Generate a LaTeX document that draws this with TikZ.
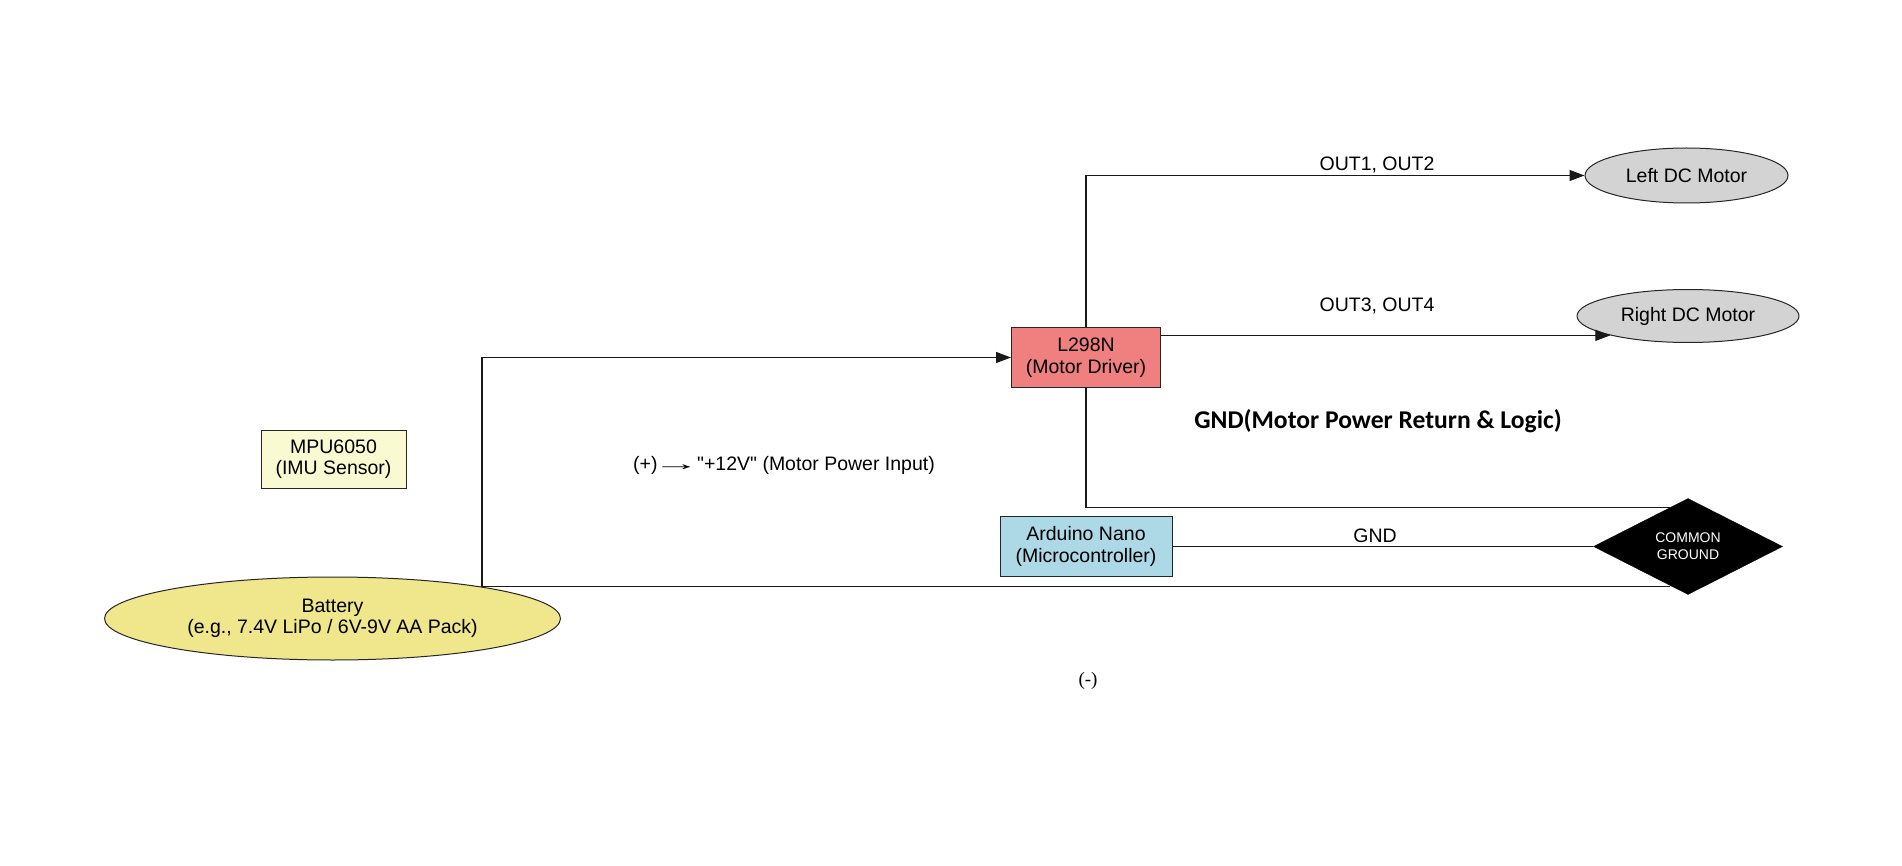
\documentclass[tikz,border=0pt]{standalone}
\usepackage{graphicx}
\usepackage{fontspec}
\setmainfont{Liberation Sans}[Ligatures=TeXOff]
\newfontfamily\serifx{Liberation Serif}
\newfontfamily\calib{Carlito}
\usetikzlibrary{shapes.geometric,arrows.meta}
\definecolor{lcoral}{HTML}{F08080}
\definecolor{lblue}{HTML}{ADD8E6}
\definecolor{lyellow}{HTML}{FAFAD2}
\definecolor{khakic}{HTML}{F0E68C}
\definecolor{lgrey}{HTML}{D3D3D3}
\begin{document}
\begin{tikzpicture}[x=1pt,y=-1pt,
  txt/.style={font=\fontsize{19.5}{21.5}\selectfont, align=center, inner sep=0pt},
  boxn/.style={txt, draw=black!85, line width=1pt, rectangle},
  elln/.style={txt, draw=black!85, line width=1pt, ellipse},
  wire/.style={line width=1.3pt, black!90},
  arr/.style={wire, -{Triangle[length=15pt,width=11pt]}}]
\useasboundingbox (0,0) rectangle (1902,866);

% nodes
\node[boxn, fill=lcoral, minimum width=149pt, minimum height=59pt] (l298) at (1086,357.5) {L298N\\(Motor Driver)};
\node[boxn, fill=lblue, minimum width=172pt, minimum height=60pt] (ard) at (1086,546.5) {Arduino Nano\\(Microcontroller)};
\node[boxn, fill=lyellow, minimum width=145pt, minimum height=58pt] (mpu) at (333.5,459) {MPU6050\\(IMU Sensor)};
\node[elln, fill=khakic, minimum width=456pt, minimum height=83pt] (bat) at (332.5,618.5) {Battery\\(e.g., 7.4V LiPo / 6V-9V AA Pack)};
\node[elln, fill=lgrey, minimum width=203pt, minimum height=55pt] (lmot) at (1686.5,175.5) {Left DC Motor};
\node[elln, fill=lgrey, minimum width=222pt, minimum height=53pt] (rmot) at (1688,316) {Right DC Motor};
\node[diamond, draw=black, fill=black, minimum width=189pt, minimum height=96pt, inner sep=0pt,
      text=white, align=center, font=\fontsize{14}{17}\selectfont] (gnd) at (1688,546.5) {COMMON\\GROUND};

% connectors
\coordinate (bp) at (bat.12);
\draw[arr] (bp) |- (l298.west);
\draw[arr] (l298.north) |- (lmot.west);
\draw[arr] (l298.east |- rmot.194) -- (rmot.194);
\draw[wire] (l298.south) |- (gnd.115);
\draw[wire] (ard.east) -- (gnd.west);
\draw[wire] (bp) -- (bp -| gnd.245);

% labels
\node[txt, anchor=base] (lo12) at (1377,170.5) {OUT1, OUT2};
\node[txt, anchor=base] (lo34) at (1377,311.5) {OUT3, OUT4};
\node[txt, anchor=base] (lgnd) at (1375,542) {GND};
\node[txt, anchor=base] (lplus) at (784,470) {(+) \kern-10pt\scalebox{2.4}[1]{→}\kern-8pt{} "+12V" (Motor Power Input)};
\node[inner sep=0pt, anchor=base, font=\calib\bfseries\fontsize{25.6}{30}\selectfont] (lret) at (1378,428) {GND(Motor Power Return \& Logic)};
\node[inner sep=0pt, anchor=base, font=\serifx\fontsize{19}{22}\selectfont] (lminus) at (1088,685) {(-)};
\end{tikzpicture}
\end{document}
